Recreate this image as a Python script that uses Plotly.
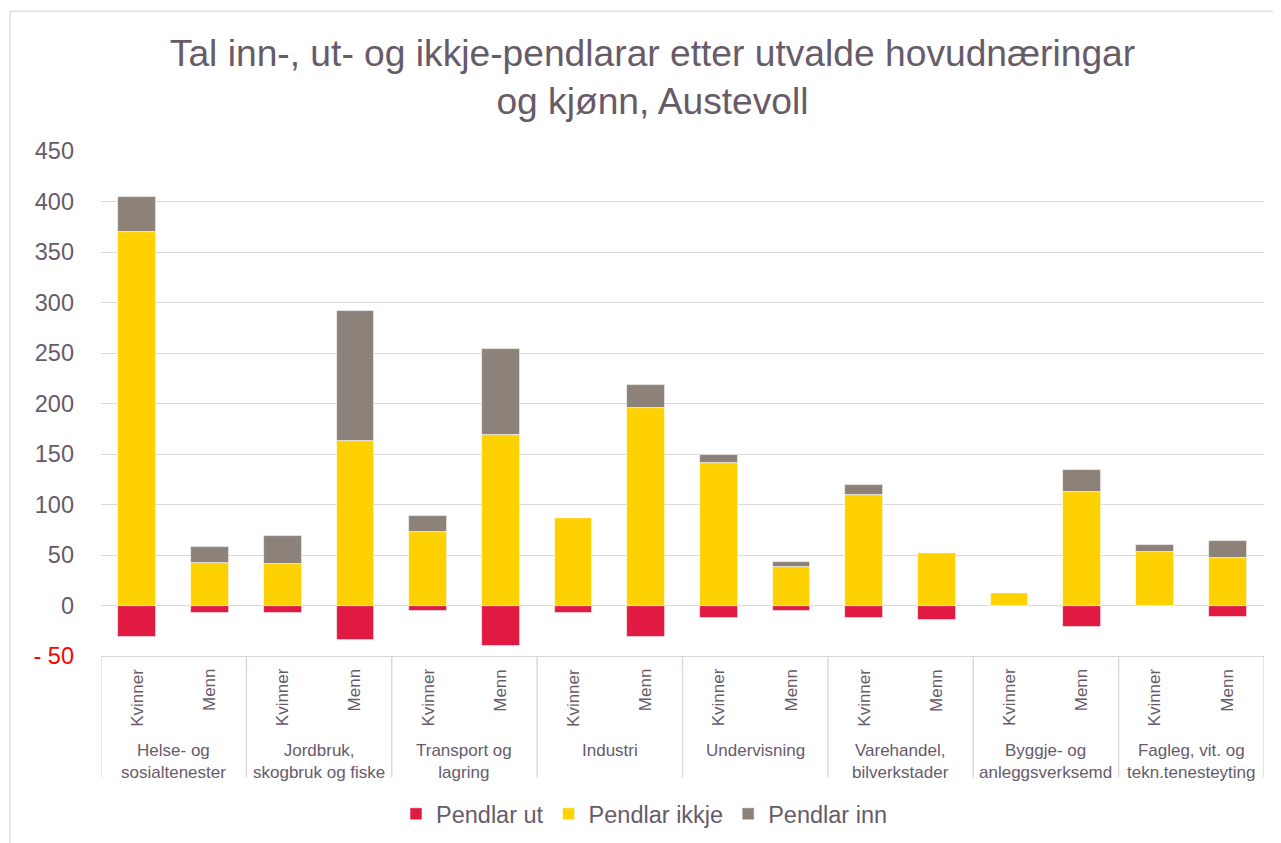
import plotly.graph_objects as go

# næringar (outer level) and kjønn (inner level)
naeringar = [
    "Helse- og<br>sosialtenester",
    "Jordbruk,<br>skogbruk og fiske",
    "Transport og<br>lagring",
    "Industri",
    "Undervisning",
    "Varehandel,<br>bilverkstader",
    "Byggje- og<br>anleggsverksemd",
    "Fagleg, vit. og<br>tekn.tenesteyting",
]
kjonn = ["Kvinner", "Menn"]

# values, order: Kvinner, Menn per næring
pendlar_ut = [-31, -7, -7, -34, -5, -40, -7, -31, -12, -5, -12, -14, 0, -21, 0, -11]
pendlar_ikkje = [370, 42, 41, 163, 73, 169, 87, 196, 141, 38, 109, 52, 12, 112, 53, 47]
pendlar_inn = [34, 16, 28, 129, 16, 85, 0, 22, 8, 5, 10, 0, 0, 22, 7, 17]

y_ticks = [-50, 0, 50, 100, 150, 200, 250, 300, 350, 400, 450]

TXT = "#675b6a"
GRID = "#dcd7dc"
FONT = "Liberation Sans, Arial, sans-serif"

W, H = 1273, 835  # page has an 8px body margin

xpos = list(range(len(naeringar) * len(kjonn)))

fig = go.Figure()
for name, vals, col in [
    ("Pendlar ut", pendlar_ut, "#e01a42"),
    ("Pendlar ikkje", pendlar_ikkje, "#ffd100"),
    ("Pendlar inn", pendlar_inn, "#8c8279"),
]:
    fig.add_trace(go.Bar(
        x=xpos, y=vals, name=name, width=0.52,
        marker=dict(color=col, line=dict(color="rgba(255,255,255,0.7)", width=0.8)),
    ))

# plot area in page px: x 101..1264, y 151..656.5
def py(p):
    return (656.5 - p) / 505.5

annotations = []
for i, x in enumerate(xpos):
    annotations.append(dict(
        x=x, y=py(667), xref="x", yref="paper", text=kjonn[i % 2],
        textangle=-90, xanchor="center", yanchor="top", showarrow=False,
        font=dict(size=17, color=TXT, family=FONT),
    ))
for g, lab in enumerate(naeringar):
    annotations.append(dict(
        x=2 * g + 0.5, y=py(740), xref="x", yref="paper", text=lab,
        xanchor="center", yanchor="top", showarrow=False,
        font=dict(size=17, color=TXT, family=FONT),
    ))

shapes = []
for g in range(len(naeringar) + 1):
    shapes.append(dict(
        type="line", xref="x", yref="paper", x0=2 * g - 0.5, x1=2 * g - 0.5,
        y0=0, y1=py(778), line=dict(color="#d9d5d9", width=1.3),
    ))
# chart border (left and top edges visible)
bx = (10 - 101) / 1163
shapes.append(dict(type="line", xref="paper", yref="paper", x0=bx, x1=bx,
                   y0=py(11), y1=py(900), line=dict(color="#d9d9d9", width=1.3)))
shapes.append(dict(type="line", xref="paper", yref="paper", x0=bx, x1=1.2,
                   y0=py(11), y1=py(11), line=dict(color="#d9d9d9", width=1.3)))

ticktext = [("<span style='color:#ff0000'>- 50</span>" if v < 0 else str(v)) for v in y_ticks]

fig.update_layout(
    width=W, height=H,
    margin=dict(l=93, r=W - 1256, t=143, b=H - 648.5, autoexpand=False),
    paper_bgcolor="white", plot_bgcolor="white",
    barmode="relative", bargap=0,
    font=dict(family=FONT, color=TXT),
    title=dict(
        text="Tal inn-, ut- og ikkje-pendlarar etter utvalde hovudnæringar<br>og kjønn, Austevoll",
        x=(652.5 - 8) / W, xanchor="center", xref="container",
        y=1 - 58 / H, yanchor="top", yref="container",
        font=dict(size=37.2, color=TXT, family=FONT),
    ),
    xaxis=dict(
        range=[-0.5, 15.5], showticklabels=False, showgrid=False, zeroline=False,
        showline=True, linecolor="#d9d5d9", linewidth=1.3, ticks="", fixedrange=True,
    ),
    yaxis=dict(
        range=[-50, 450], tickvals=y_ticks, ticktext=ticktext,
        showgrid=True, gridcolor=GRID, gridwidth=1.3,
        zeroline=True, zerolinecolor=GRID, zerolinewidth=1.3,
        showline=False, ticks="", ticklabelstandoff=26,
        tickfont=dict(size=23.5, color=TXT, family=FONT),
    ),
    legend=dict(
        orientation="h", x=(396 - 8) / W, xanchor="left", xref="container",
        y=1 - (814 - 8) / H, yanchor="middle", yref="container",
        font=dict(size=23.5, color=TXT, family=FONT),
        traceorder="normal",
    ),
    annotations=annotations,
    shapes=shapes,
)

fig.write_html("out.html")
